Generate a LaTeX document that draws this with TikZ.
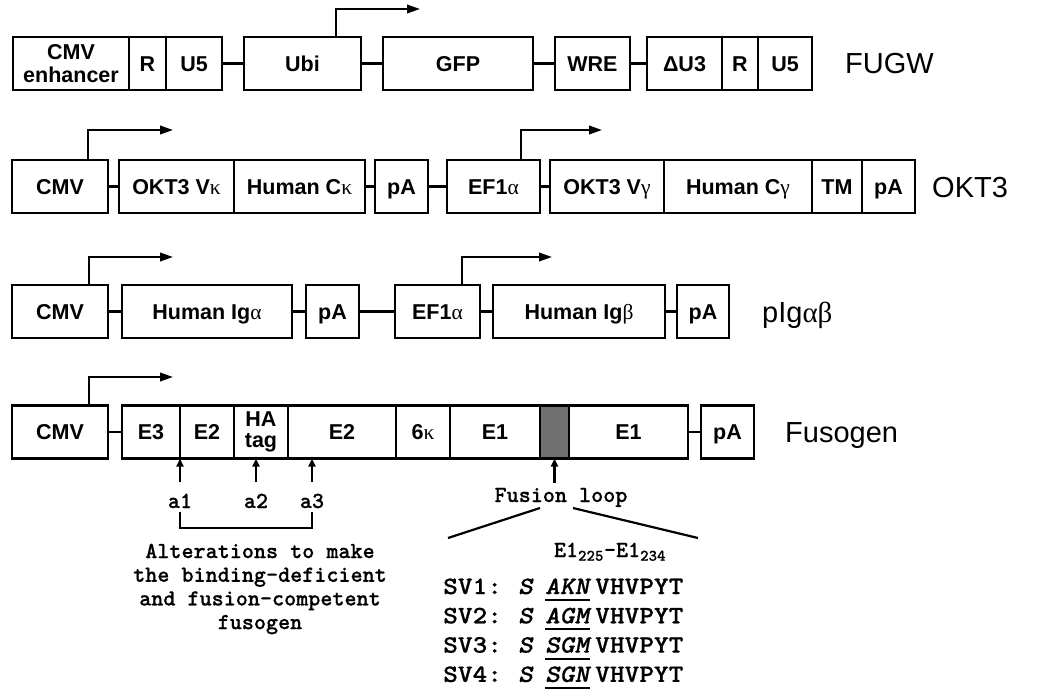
\documentclass[tikz,border=0pt]{standalone}
\usepackage{fontspec}
\usepackage{graphicx}
\setmainfont{Liberation Sans}
\newfontfamily\grk{Liberation Serif}
\newfontfamily\cour{lmmonolt10-bold}[Extension=.otf,ItalicFont=lmmonolt10-boldoblique,FakeBold=0.6]
\usetikzlibrary{arrows.meta}
\definecolor{loopgray}{RGB}{112,112,112}
\newcommand{\gk}[1]{{\grk\mdseries #1}}

\begin{document}
\begin{tikzpicture}[x=1pt,y=-1pt,>={Triangle[length=13pt,width=8.5pt]},
  seg/.style={draw,line width=2.2pt,minimum height=53pt,inner sep=0pt,outer sep=0pt,anchor=west,
    align=center,font=\bfseries\fontsize{21.5}{23}\selectfont},
  box/.style={seg,text height=17pt,text depth=1.6pt},
  lab/.style={anchor=west,inner sep=0pt,text height=21pt,text depth=0pt,font=\fontsize{29}{30}\selectfont},
  mono/.style={inner sep=0pt,font=\cour\fontsize{23}{23.7}\selectfont},
  svtext/.style={mono,anchor=base west,font=\cour\fontsize{25}{26}\selectfont},
  link/.style={line width=2.2pt},
  prom/.style={->,line width=2.2pt},
  upar/.style={-{Triangle[length=8pt,width=7pt]},line width=2.2pt}]
  \useasboundingbox (0,0) rectangle (1050,698);

  % FUGW
  \node[seg,minimum width=116] (enh) at (13,63.5) {CMV\\enhancer};
  \node[box,minimum width=37]  (r1)  at (enh.east) {R};
  \node[box,minimum width=56]  (u51) at (r1.east) {U5};
  \node[box,minimum width=117] (ubi) at (244,63.5) {Ubi};
  \node[box,minimum width=150] (gfp) at (383,63.5) {GFP};
  \node[box,minimum width=75]  (wre) at (555,63.5) {WRE};
  \node[box,minimum width=75]  (du3) at (647,63.5) {ΔU3};
  \node[box,minimum width=36]  (r2)  at (du3.east) {R};
  \node[box,minimum width=54]  (u52) at (r2.east) {U5};
  \node[lab] (fugw) at (845,63.5) {FUGW};
  \coordinate (pubi) at (420,9);
  \draw[link] (u51.east) -- (ubi.west) (ubi.east) -- (gfp.west)
        (gfp.east) -- (wre.west) (wre.east) -- (du3.west);
  \draw[prom] ([xshift=33.5]ubi.north) |- (pubi);

  % OKT3
  \node[box,minimum width=96]  (cmv2) at (12,186.5) {CMV};
  \node[box,minimum width=115] (vk)   at (119,186.5) {OKT3 V\gk{κ}};
  \node[box,minimum width=131] (ck)   at (vk.east) {Human C\gk{κ}};
  \node[box,minimum width=53]  (pa2)  at (375,186.5) {pA};
  \node[box,minimum width=93]  (ef2)  at (447,186.5) {EF1\gk{α}};
  \node[box,minimum width=114] (vg)   at (550,186.5) {OKT3 V\gk{γ}};
  \node[box,minimum width=148] (cg)   at (vg.east) {Human C\gk{γ}};
  \node[box,minimum width=50]  (tm)   at (cg.east) {TM};
  \node[box,minimum width=53]  (pa3)  at (tm.east) {pA};
  \node[lab] (okt) at (932,186.5) {OKT3};
  \coordinate (pcmv2) at (173,130);
  \coordinate (pef2) at (602,130);
  \draw[link] (cmv2.east) -- (vk.west) (ck.east) -- (pa2.west)
        (pa2.east) -- (ef2.west) (ef2.east) -- (vg.west);
  \draw[prom] ([xshift=28]cmv2.north) |- (pcmv2);
  \draw[prom] ([xshift=27.5]ef2.north) |- (pef2);

  % pIgab
  \node[box,minimum width=96]  (cmv3) at (12,311.5) {CMV};
  \node[box,minimum width=170] (iga)  at (122,311.5) {Human Ig\gk{α}};
  \node[box,minimum width=53]  (pa4)  at (306,311.5) {pA};
  \node[box,minimum width=85]  (ef3)  at (395,311.5) {EF1\gk{α}};
  \node[box,minimum width=172] (igb)  at (493,311.5) {Human Ig\gk{β}};
  \node[box,minimum width=52]  (pa5)  at (677,311.5) {pA};
  \node[lab] (pig) at (762,311.5) {pIg{\grk αβ}};
  \coordinate (pcmv3) at (173,257);
  \coordinate (pef3) at (552,257);
  \draw[link] (cmv3.east) -- (iga.west) (iga.east) -- (pa4.west)
        (pa4.east) -- (ef3.west) (ef3.east) -- (igb.west) (igb.east) -- (pa5.west);
  \draw[prom] ([xshift=29]cmv3.north) |- (pcmv3);
  \draw[prom] ([xshift=24.5]ef3.north) |- (pef3);

  % Fusogen
  \node[box,minimum width=96]  (cmv4) at (12,432) {CMV};
  \node[box,minimum width=58]  (e3)   at (122,432) {E3};
  \node[box,minimum width=54]  (e2a)  at (e3.east) {E2};
  \node[seg,minimum width=54,font=\bfseries\fontsize{21.5}{21}\selectfont] (ha) at (e2a.east) {HA\\tag};
  \node[box,minimum width=108] (e2b)  at (ha.east) {E2};
  \node[box,minimum width=54]  (sk)   at (e2b.east) {6\gk{κ}};
  \node[box,minimum width=90]  (e1a)  at (sk.east) {E1};
  \node[box,minimum width=29,fill=loopgray] (loop) at (e1a.east) {};
  \node[box,minimum width=119] (e1b)  at (loop.east) {E1};
  \node[box,minimum width=53]  (pa6)  at (701,432) {pA};
  \node[lab] (fus) at (785,432) {Fusogen};
  \coordinate (pcmv4) at (173,377);
  \draw[link] (cmv4.east) -- (e3.west) (e1b.east) -- (pa6.west);
  \draw[prom] ([xshift=29]cmv4.north) |- (pcmv4);

  % alterations
  \node[mono,anchor=base] (a1) at (180,508) {a1};
  \node[mono,anchor=base] (a2) at (256,508) {a2};
  \node[mono,anchor=base] (a3) at (312,508) {a3};
  \draw[upar,shorten <=11pt] (a1.north) -- (a1.north |- e3.south);
  \draw[upar,shorten <=11pt] (a2.north) -- (a2.north |- ha.south);
  \draw[upar,shorten <=11pt] (a3.north) -- (a3.north |- e2b.south);
  \draw[link] ([yshift=-4]a1.south) |- (a3.south |- 0,528) -- ([yshift=-4]a3.south);
  \node[mono,align=center] (alt) at (260,589) {Alterations to make\\the binding-deficient\\and fusion-competent\\fusogen};

  % fusion loop
  \node[mono,anchor=base] (floop) at (561,502) {Fusion loop};
  \draw[upar,shorten <=5pt] (loop.south |- floop.north) -- (loop.south);
  \coordinate (fl1) at (540,508);
  \coordinate (fl2) at (448,538);
  \coordinate (fr1) at (573,508);
  \coordinate (fr2) at (698,538);
  \draw[link] (fl1) -- (fl2) (fr1) -- (fr2);
  \node[mono,anchor=base] (rng) at (610,557) {E1\textsubscript{225}-E1\textsubscript{234}};
  \foreach \m [count=\i] in {AKN,AGM,SGM,SGN}{
    \node[svtext] (sv\i)  at (443,{594+29.3*(\i-1)}) {\scalebox{1.12}[1]{SV\i:}};
    \node[svtext] (svs\i) at (518,{594+29.3*(\i-1)}) {\scalebox{1.12}[1]{\itshape S}};
    \node[svtext] (svm\i) at (545,{594+29.3*(\i-1)}) {\scalebox{1.12}[1]{\itshape\m}};
    \node[svtext] (svt\i) at (595,{594+29.3*(\i-1)}) {\scalebox{1.12}[1]{VHVPYT}};
    \draw[line width=2pt] ([yshift=-6]svm\i.base west) -- ([yshift=-6]svm\i.base east);
  }
\end{tikzpicture}
\end{document}
